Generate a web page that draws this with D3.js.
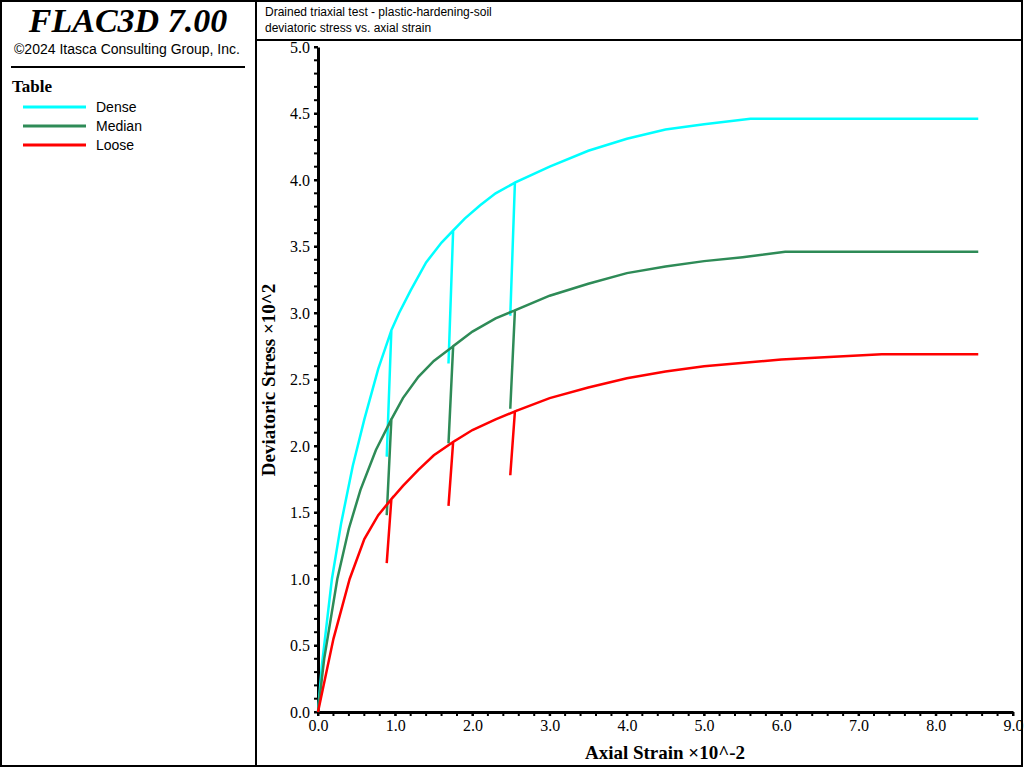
<!DOCTYPE html>
<html lang="en">
<head>
<meta charset="utf-8">
<title>FLAC3D triaxial chart</title>
<script src="https://cdn.jsdelivr.net/npm/d3@7"></script>
<style>
  body { margin:0; background:#fff; }
  text { fill:#000; }
</style>
</head>
<body>
<script>
// data: [axial strain, deviatoric stress]
var dense = [[0,0],[0.05,0.35],[0.18,1.0],[0.3,1.42],[0.45,1.85],[0.6,2.2],[0.78,2.58],[0.95,2.87],[0.89,1.92],[0.95,2.87],
  [1.05,3.0],[1.2,3.17],[1.4,3.38],[1.6,3.53],[1.75,3.62],[1.69,2.62],[1.75,3.62],
  [1.9,3.71],[2.1,3.81],[2.3,3.9],[2.55,3.98],[2.49,2.98],[2.55,3.98],
  [3.0,4.1],[3.5,4.22],[4.0,4.31],[4.5,4.38],[5.0,4.42],[5.6,4.46],[8.55,4.46]];
var median = [[0,0],[0.08,0.4],[0.25,1.0],[0.4,1.38],[0.55,1.67],[0.75,1.97],[0.95,2.2],[0.89,1.48],[0.95,2.2],
  [1.1,2.36],[1.3,2.52],[1.5,2.64],[1.75,2.75],[1.69,2.02],[1.75,2.75],
  [2.0,2.86],[2.3,2.96],[2.55,3.02],[2.49,2.28],[2.55,3.02],
  [3.0,3.13],[3.5,3.22],[4.0,3.3],[4.5,3.35],[5.0,3.39],[5.5,3.42],[6.05,3.46],[8.55,3.46]];
var loose = [[0,0],[0.2,0.55],[0.41,1.0],[0.6,1.3],[0.78,1.48],[0.95,1.6],[0.89,1.12],[0.95,1.6],
  [1.1,1.7],[1.3,1.82],[1.5,1.93],[1.75,2.03],[1.69,1.55],[1.75,2.03],
  [2.0,2.12],[2.3,2.2],[2.55,2.26],[2.49,1.78],[2.55,2.26],
  [3.0,2.36],[3.5,2.44],[4.0,2.51],[4.5,2.56],[5.0,2.6],[6.0,2.65],[7.3,2.69],[8.55,2.69]];
var seriesNames = ["Dense","Median","Loose"];
var seriesColors = ["#00ffff","#2e8b57","#ff0000"];
var xTicks = [0,1,2,3,4,5,6,7,8,9];
var yTicks = [0,0.5,1,1.5,2,2.5,3,3.5,4,4.5,5];

var svg = d3.select("body").append("svg").attr("width",1024).attr("height",768);
var serif = "'Liberation Serif','Times New Roman',serif";
var sans = "'Liberation Sans',Arial,sans-serif";

// frames
svg.append("rect").attr("x",1).attr("y",1).attr("width",255).attr("height",765).attr("fill","none").attr("stroke","#000").attr("stroke-width",2);
svg.append("rect").attr("x",256).attr("y",1).attr("width",766).attr("height",765).attr("fill","none").attr("stroke","#000").attr("stroke-width",2);
svg.append("line").attr("x1",256).attr("x2",1022).attr("y1",40).attr("y2",40).attr("stroke","#000").attr("stroke-width",2);

svg.append("text").attr("x",128).attr("y",32).attr("text-anchor","middle").attr("font-family",serif)
  .attr("font-style","italic").attr("font-weight","bold").attr("font-size",34).text("FLAC3D 7.00");
svg.append("text").attr("x",127).attr("y",54).attr("text-anchor","middle").attr("font-family",sans)
  .attr("font-size",14).text("©2024 Itasca Consulting Group, Inc.");
svg.append("line").attr("x1",11).attr("x2",245).attr("y1",67).attr("y2",67).attr("stroke","#000").attr("stroke-width",2);
svg.append("text").attr("x",12).attr("y",92).attr("font-family",serif).attr("font-weight","bold").attr("font-size",17).text("Table");

var leg = svg.append("g");
seriesNames.forEach(function(n,i){
  var y = 107 + i*19;
  leg.append("line").attr("x1",23).attr("x2",86).attr("y1",y).attr("y2",y).attr("stroke",seriesColors[i]).attr("stroke-width",3);
  leg.append("text").attr("x",96).attr("y",y+5).attr("font-family",sans).attr("font-size",14).text(n);
});

svg.append("text").attr("x",265).attr("y",16).attr("font-family",sans).attr("font-size",12).text("Drained triaxial test - plastic-hardening-soil");
svg.append("text").attr("x",265).attr("y",32).attr("font-family",sans).attr("font-size",12).text("deviatoric stress vs. axial strain");

var x = d3.scaleLinear().domain([0,9]).range([318,1013]);
var y = d3.scaleLinear().domain([0,5]).range([712,47]);

// minor ticks
var xMinor = d3.range(0,9.001,0.2), yMinor = d3.range(0,5.001,0.1);
svg.append("g").selectAll("line").data(xMinor).join("line")
  .attr("x1",d=>x(d)).attr("x2",d=>x(d)).attr("y1",712).attr("y2",716).attr("stroke","#000").attr("stroke-width",2);
svg.append("g").selectAll("line").data(yMinor).join("line")
  .attr("x1",314).attr("x2",318).attr("y1",d=>y(d)).attr("y2",d=>y(d)).attr("stroke","#000").attr("stroke-width",2);

var xAxis = svg.append("g").attr("transform","translate(0,712)")
  .call(d3.axisBottom(x).tickValues(xTicks).tickFormat(d3.format(".1f")).tickSize(8).tickSizeOuter(0));
var yAxis = svg.append("g").attr("transform","translate(318,0)")
  .call(d3.axisLeft(y).tickValues(yTicks).tickFormat(d3.format(".1f")).tickSize(8).tickSizeOuter(0));
[xAxis,yAxis].forEach(function(a){
  a.select(".domain").attr("stroke-width",3);
  a.selectAll(".tick line").attr("stroke-width",2);
  a.selectAll("text").attr("font-family",serif).attr("font-size",16).attr("fill","#000");
});
yAxis.selectAll(".tick line").attr("x2",-4);
yAxis.selectAll("text").attr("x",-8);
xAxis.selectAll(".tick line").attr("y2",4);
xAxis.selectAll("text").attr("y",8);

svg.append("text").attr("x",665).attr("y",759).attr("text-anchor","middle").attr("font-family",serif)
  .attr("font-weight","bold").attr("font-size",19).text("Axial Strain ×10^-2");
svg.append("text").attr("transform","translate(275,380) rotate(-90)").attr("text-anchor","middle").attr("font-family",serif)
  .attr("font-weight","bold").attr("font-size",19).text("Deviatoric Stress ×10^2");

var line = d3.line().x(d=>x(d[0])).y(d=>y(d[1])).curve(d3.curveLinear);
[dense,median,loose].forEach(function(s,i){
  svg.append("path").datum(s).attr("d",line).attr("fill","none").attr("stroke",seriesColors[i]).attr("stroke-width",2.5);
});
</script>
</body>
</html>
